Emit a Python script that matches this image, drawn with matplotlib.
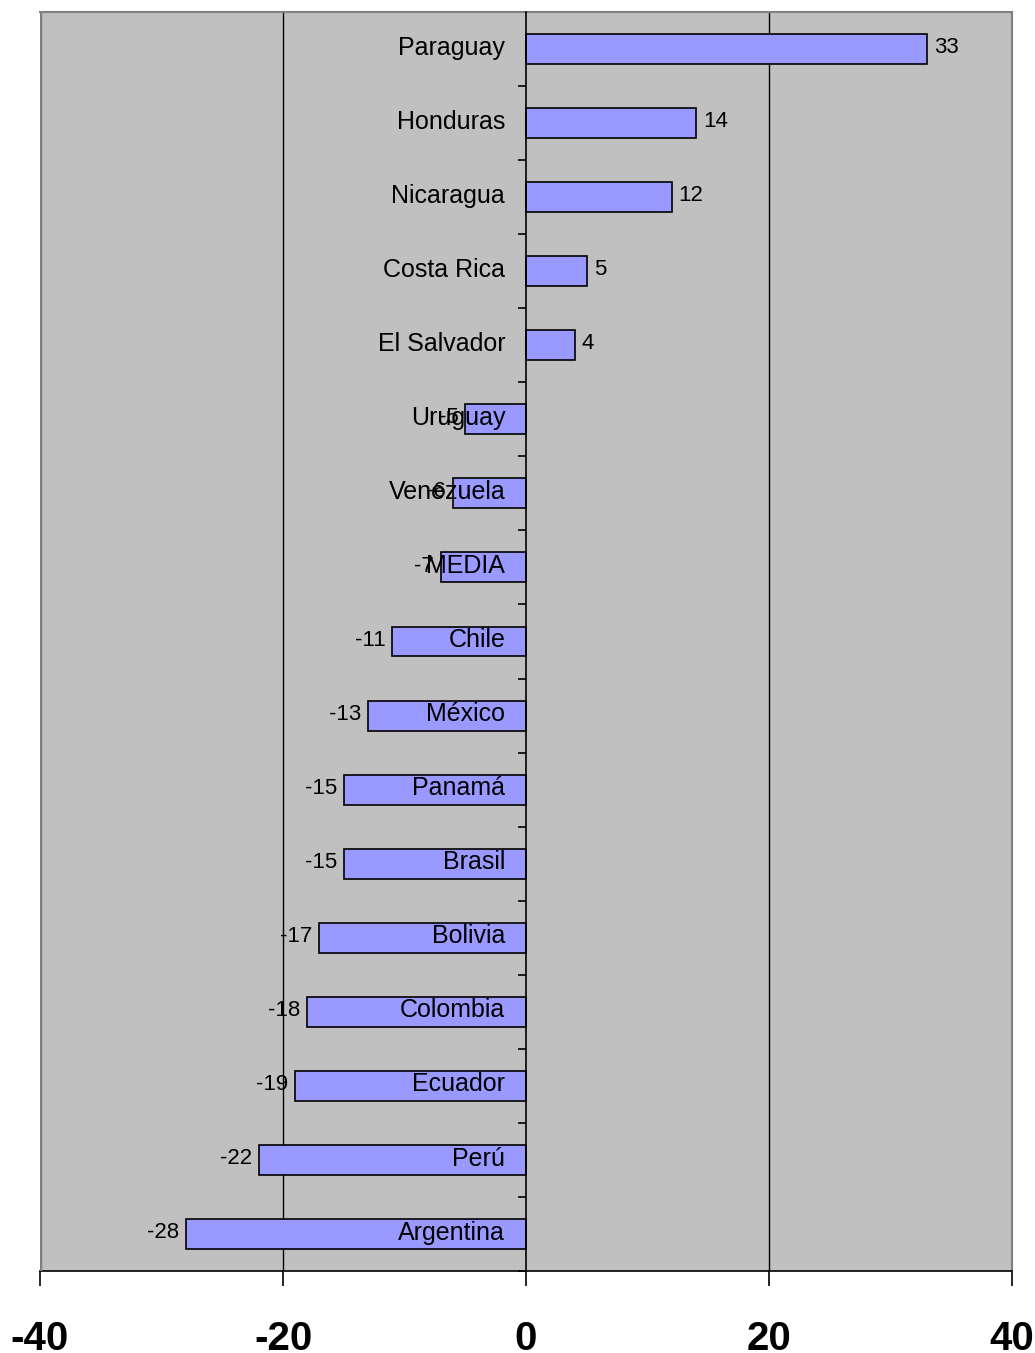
import matplotlib
matplotlib.use("Agg")
import matplotlib.pyplot as plt
import numpy as np

plt.rcParams['font.family'] = ['Liberation Sans', 'DejaVu Sans']

paises = ["Paraguay", "Honduras", "Nicaragua", "Costa Rica", "El Salvador",
          "Uruguay", "Venezuela", "MEDIA", "Chile", "México", "Panamá",
          "Brasil", "Bolivia", "Colombia", "Ecuador", "Perú", "Argentina"]
valores = [33, 14, 12, 5, 4, -5, -6, -7, -11, -13, -15, -15, -17, -18, -19, -22, -28]
xticks = [-40, -20, 0, 20, 40]
lineas = [-20, 20]

fig = plt.figure(figsize=(10.35, 13.53), dpi=100)
ax = fig.add_axes([40/1035, 82/1353, 972/1035, 1259/1353])
ax.set_facecolor('#C0C0C0')

y = np.arange(len(paises))
ax.barh(y, valores, height=0.405, color='#9999FF', edgecolor='black', linewidth=1.2, zorder=3)

for v in lineas:
    ax.axvline(v, color='black', linewidth=1.0, zorder=1)

ax.set_xlim(-40, 40)
ax.set_ylim(len(paises) - 0.5, -0.5)

# bordes
for s in ['top', 'right']:
    ax.spines[s].set_color('#808080')
    ax.spines[s].set_linewidth(1.5)
ax.axvline(-40, color='#808080', linewidth=2.5, zorder=4)
ax.spines['bottom'].set_color('black')
ax.spines['bottom'].set_linewidth(1.2)
ax.spines['left'].set_position(('data', 0))
ax.spines['left'].set_color('black')
ax.spines['left'].set_linewidth(1.2)
ax.spines['left'].set_zorder(5)

ax.set_yticks(np.arange(-0.5, len(paises), 1))
ax.set_yticklabels([])
ax.tick_params(axis='y', direction='out', length=6, width=1.2, color='black')

ax.set_xticks(xticks)
ax.set_xticklabels([str(t) for t in xticks], fontsize=29, fontweight='bold')
ax.tick_params(axis='x', direction='out', length=11, width=1.2, pad=24)

for i, (p, v) in enumerate(zip(paises, valores)):
    ax.annotate(p, (0, i), xytext=(-15, 1), textcoords='offset points',
                ha='right', va='center', fontsize=18, zorder=6)
    if v >= 0:
        ax.annotate(str(v), (v, i), xytext=(5, 1), textcoords='offset points',
                    ha='left', va='center', fontsize=16, zorder=6)
    else:
        ax.annotate(str(v), (v, i), xytext=(-5, 1), textcoords='offset points',
                    ha='right', va='center', fontsize=16, zorder=6)

fig.savefig("out.png", dpi=100)
